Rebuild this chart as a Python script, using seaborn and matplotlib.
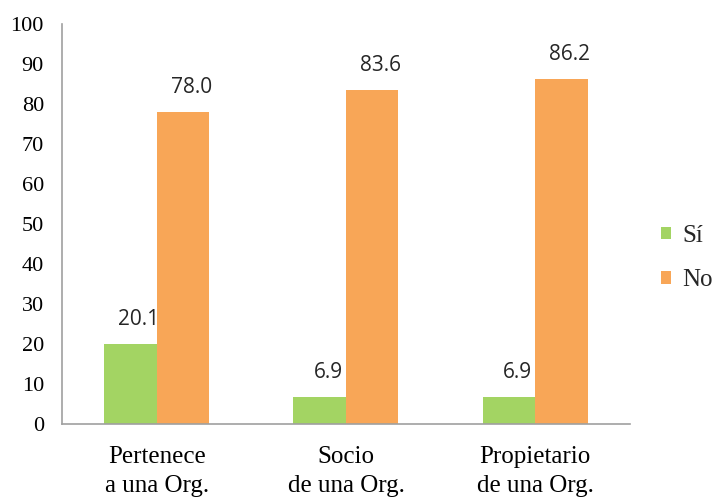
import pandas as pd
import matplotlib.pyplot as plt
import seaborn as sns

categorias = ["Pertenece\na una Org.", "Socio\nde una Org.", "Propietario\nde una Org."]
si = [20.1, 6.9, 6.9]
no = [78.0, 83.6, 86.2]
series = ["Sí", "No"]
colores = ["#a3d463", "#f8a657"]

df = pd.DataFrame({
    "categoria": categorias * 2,
    "valor": si + no,
    "serie": [series[0]] * 3 + [series[1]] * 3,
})

sns.set_style("white")
fig = plt.figure(figsize=(7.17, 4.99), dpi=100)
ax = fig.add_axes([0.0865, 0.150, 0.792, 0.802])

sns.barplot(data=df, x="categoria", y="valor", hue="serie", palette=colores,
            width=0.555, saturation=1, ax=ax, edgecolor="none")

# etiquetas de valores
for cont in ax.containers:
    for bar in cont:
        h = bar.get_height()
        ax.annotate(f"{h:.1f}", (bar.get_x() + bar.get_width() / 2, h),
                    xytext=(6, 13.5), textcoords="offset points",
                    ha="center", va="baseline", fontsize=15, family="Open Sans")

ax.set_ylim(0, 100)
ax.set_xlim(-0.5, 2.5)
ax.set_yticks(range(0, 101, 10))
ax.set_xlabel("")
ax.set_ylabel("")

for s in ["top", "right"]:
    ax.spines[s].set_visible(False)
for s in ["left", "bottom"]:
    ax.spines[s].set_color("#a0a0a0")
    ax.spines[s].set_linewidth(1.2)

ax.tick_params(axis="y", direction="out", length=5, color="#a0a0a0", labelsize=16, pad=8)
ax.tick_params(axis="x", which="major", length=0, labelsize=18, pad=16)
ax.set_xticks([-0.5, 0.5, 1.5, 2.5], minor=True)
ax.tick_params(axis="x", which="minor", direction="out", length=5, color="#a0a0a0")
for lab in ax.get_xticklabels() + ax.get_yticklabels():
    lab.set_family("Liberation Serif")
    lab.set_color("black")
for lab in ax.get_xticklabels():
    lab.set_linespacing(1.4)

leg = ax.legend(loc="center left", bbox_to_anchor=(1.015, 0.415), frameon=False,
                prop={"family": "Liberation Serif", "size": 18},
                handlelength=0.4, handleheight=0.4, labelspacing=0.9, handletextpad=0.45)

fig.savefig("out.png", dpi=100)
